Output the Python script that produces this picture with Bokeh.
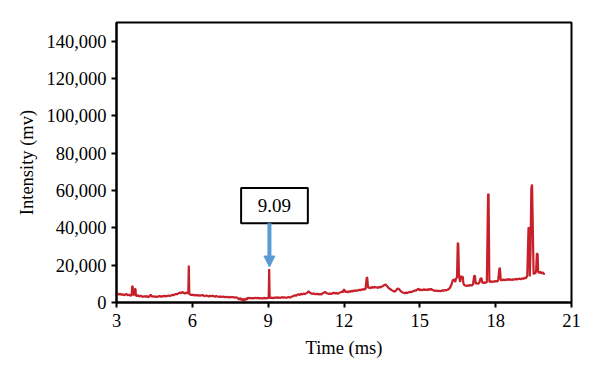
from bokeh.plotting import figure
from bokeh.models import Range1d, FixedTicker, NumeralTickFormatter, Arrow, NormalHead
from bokeh.embed import file_html
from bokeh.resources import INLINE
from bokeh.core.properties import value

# ---- data ----
time_ms = [
    3.00, 3.05, 3.10, 3.15, 3.20, 3.25, 3.30, 3.35, 3.40, 3.45, 3.50, 3.55, 3.60, 3.62, 3.64, 3.66,
    3.70, 3.73, 3.75, 3.77, 3.80, 3.85, 3.90, 3.95, 4.00, 4.05, 4.10, 4.15, 4.20, 4.25, 4.30, 4.35,
    4.40, 4.45, 4.50, 4.55, 4.60, 4.65, 4.70, 4.75, 4.80, 4.85, 4.90, 4.95, 5.00, 5.05, 5.10, 5.15,
    5.20, 5.25, 5.30, 5.35, 5.40, 5.45, 5.50, 5.55, 5.60, 5.65, 5.70, 5.75, 5.80, 5.84, 5.86, 5.88,
    5.92, 5.95, 6.00, 6.05, 6.10, 6.15, 6.20, 6.25, 6.30, 6.35, 6.40, 6.45, 6.50, 6.55, 6.60, 6.65,
    6.70, 6.75, 6.80, 6.85, 6.90, 6.95, 7.00, 7.05, 7.10, 7.15, 7.20, 7.25, 7.30, 7.35, 7.40, 7.45,
    7.50, 7.55, 7.60, 7.65, 7.70, 7.75, 7.80, 7.85, 7.90, 7.95, 8.00, 8.05, 8.10, 8.15, 8.20, 8.25,
    8.30, 8.35, 8.40, 8.45, 8.50, 8.55, 8.60, 8.65, 8.70, 8.75, 8.80, 8.85, 8.90, 8.95, 9.00, 9.02,
    9.04, 9.06, 9.10, 9.15, 9.20, 9.25, 9.30, 9.35, 9.40, 9.45, 9.50, 9.55, 9.60, 9.65, 9.70, 9.75,
    9.80, 9.85, 9.90, 9.95, 10.00, 10.05, 10.10, 10.15, 10.20, 10.25, 10.30, 10.35, 10.40, 10.45,
    10.50, 10.55, 10.60, 10.65, 10.70, 10.75, 10.80, 10.85, 10.90, 10.95, 11.00, 11.05, 11.10,
    11.15, 11.20, 11.25, 11.30, 11.35, 11.40, 11.45, 11.50, 11.55, 11.60, 11.65, 11.70, 11.75,
    11.80, 11.85, 11.90, 11.95, 12.00, 12.05, 12.10, 12.15, 12.20, 12.25, 12.30, 12.35, 12.40,
    12.45, 12.50, 12.55, 12.60, 12.65, 12.70, 12.75, 12.80, 12.85, 12.90, 12.92, 12.95, 12.98,
    13.00, 13.05, 13.10, 13.15, 13.20, 13.25, 13.30, 13.35, 13.40, 13.45, 13.50, 13.55, 13.60,
    13.65, 13.70, 13.75, 13.80, 13.85, 13.90, 13.95, 14.00, 14.05, 14.10, 14.15, 14.20, 14.25,
    14.30, 14.35, 14.40, 14.45, 14.50, 14.55, 14.60, 14.65, 14.70, 14.75, 14.80, 14.85, 14.90,
    14.95, 15.00, 15.05, 15.10, 15.15, 15.20, 15.25, 15.30, 15.35, 15.40, 15.45, 15.50, 15.55,
    15.60, 15.65, 15.70, 15.75, 15.80, 15.85, 15.90, 15.95, 16.00, 16.05, 16.10, 16.15, 16.20,
    16.25, 16.30, 16.35, 16.40, 16.43, 16.47, 16.50, 16.52, 16.55, 16.57, 16.60, 16.62, 16.65,
    16.68, 16.70, 16.72, 16.75, 16.80, 16.85, 16.90, 16.95, 17.00, 17.05, 17.10, 17.15, 17.18,
    17.21, 17.24, 17.30, 17.35, 17.40, 17.44, 17.47, 17.50, 17.55, 17.60, 17.65, 17.70, 17.72,
    17.75, 17.78, 17.80, 17.85, 17.90, 17.95, 18.00, 18.05, 18.10, 18.15, 18.17, 18.20, 18.23,
    18.30, 18.35, 18.40, 18.45, 18.50, 18.55, 18.60, 18.65, 18.70, 18.75, 18.80, 18.85, 18.90,
    18.95, 19.00, 19.05, 19.10, 19.15, 19.20, 19.25, 19.30, 19.33, 19.35, 19.38, 19.41, 19.44,
    19.47, 19.50, 19.53, 19.56, 19.60, 19.63, 19.66, 19.68, 19.71, 19.75, 19.80, 19.85, 19.90,
    19.95, 20.00,
]
intensity_mv = [
    5200, 4600, 4300, 4700, 4100, 4400, 3900, 4300, 4500, 3800, 4200, 3600, 4000, 8800, 8600, 4300,
    4100, 7400, 7200, 3700, 3500, 3900, 3200, 3600, 3300, 3000, 3400, 3100, 3500, 2800, 3300, 4200,
    3100, 3400, 3000, 3300, 2900, 3200, 3500, 3100, 3400, 3300, 3600, 3200, 3500, 3800, 3400, 3700,
    4100, 3900, 4300, 4600, 4400, 4900, 5300, 5000, 5600, 5200, 4800, 5300, 5000, 5200, 19800, 4600,
    4300, 4000, 4200, 3800, 4100, 3700, 4000, 3600, 3900, 3700, 4000, 3600, 3400, 3800, 3500, 3200,
    3600, 3300, 3700, 3400, 3100, 3500, 3200, 3000, 3300, 2900, 3200, 3000, 2800, 3100, 2900, 2700,
    3000, 2800, 2900, 2700, 2600, 2800, 2300, 1600, 2400, 1200, 2000, 900, 2200, 1500, 2600, 2300,
    2500, 2100, 2400, 2200, 2600, 2300, 2500, 2200, 2400, 2100, 2300, 2500, 2200, 2400, 2300, 2600,
    18000, 2700, 2400, 2600, 2300, 2700, 2500, 2800, 2400, 2700, 2500, 2900, 2600, 2800, 2500, 2700,
    3000, 2600, 2900, 3200, 3500, 3900, 3600, 4100, 4400, 4000, 4700, 4300, 4800, 4500,
    4900, 5300, 6100, 5200, 4900, 4600, 4900, 4500, 4400, 4700, 4300, 4600, 4200,
    4900, 5200, 5700, 5100, 4800, 4600, 4900, 4500, 5000, 5200, 4800, 5100,
    4700, 5000, 5400, 5800, 5500, 7200, 5600, 5900, 5400, 6000, 5700, 6300, 5900,
    6500, 6100, 6600, 6300, 6900, 6500, 7100, 6800, 7200, 7000, 13500, 13200, 8200,
    7800, 8100, 7600, 8300, 7900, 8400, 8000, 8200, 7800, 8300, 8100, 8600, 8900,
    9400, 9600, 8800, 8000, 7400, 7000, 6500, 6100, 5800, 6300, 7200, 7500, 6800,
    6000, 5500, 5200, 5000, 5300, 5100, 5400, 5700, 5500, 5900, 6100, 6500, 6300,
    7000, 7300, 6600, 6900, 6500, 7100, 6700, 7000, 6600, 7200, 6800, 7300, 6700,
    6500, 6200, 6400, 6100, 6300, 6000, 6200, 6500, 6300, 6700, 6500, 6900, 7200,
    8000, 9500, 11800, 12500, 11000, 12800, 13500, 32000, 31500, 14500, 12500, 11000, 13800,
    14200, 12500, 14000, 10500, 9500, 9100, 8800, 9200, 9000, 9400, 9100, 9600, 14200,
    14400, 10000, 10300, 10000, 10500, 12800, 13000, 10800, 10400, 10800, 10500, 10900, 57800,
    58200, 11200, 11000, 11400, 11000, 11300, 11100, 11500, 11200, 11800, 18500, 18200, 12200,
    11800, 12300, 11900, 12400, 12000, 12600, 12100, 12400, 12000, 12500, 12200, 12700, 12300,
    12600, 12800, 12400, 12900, 12700, 13200, 13000, 14500, 40300, 39500, 14000, 28000, 61000,
    63200, 40000, 15000, 16200, 15400, 16800, 26400, 25800, 16500, 15800, 16500, 15600, 16200,
    15300, 15500,
]

x_ticks = [3, 6, 9, 12, 15, 18, 21]
y_ticks = [0, 20000, 40000, 60000, 80000, 100000, 120000, 140000]

# annotation (peak label)
label_text = "9.09"
label_peak_time = 9.05
label_peak_top = 19000
label_box_center = (9.25, 51950)
label_box_size = (2.64, 18900)

RED = "#C8202A"
BLUE = "#5B9BD5"
FONT = "Liberation Serif"

p = figure(width=600, height=376, output_backend="svg", toolbar_location=None,
           x_range=Range1d(3, 21), y_range=Range1d(0, 150000),
           min_border_left=116, min_border_right=29, min_border_top=22, min_border_bottom=74)

p.line(time_ms, intensity_mv, line_color=RED, line_width=2.2)

# annotation box + arrow
bx, by = label_box_center
bw, bh = label_box_size
p.rect(x=[bx], y=[by], width=[bw], height=[bh], fill_color="white",
       line_color="black", line_width=2)
p.text(x=[bx], y=[by], text=[label_text], text_font=value(FONT), text_font_size="19px",
       text_align="center", text_baseline="middle", text_color="black")
p.add_layout(Arrow(end=NormalHead(size=11, fill_color=BLUE, line_color=BLUE, line_width=1),
                   x_start=label_peak_time, y_start=by - bh / 2,
                   x_end=label_peak_time, y_end=label_peak_top,
                   line_color=BLUE, line_width=4))

p.grid.visible = False
p.outline_line_color = "black"
p.outline_line_width = 2
p.background_fill_color = "white"
p.border_fill_color = "white"

for ax in (p.xaxis[0], p.yaxis[0]):
    ax.axis_line_width = 2
    ax.axis_line_color = "black"
    ax.major_tick_line_width = 2
    ax.major_tick_line_color = "black"
    ax.major_tick_out = 5
    ax.major_tick_in = 0
    ax.minor_tick_line_color = None
    ax.major_label_text_font = FONT
    ax.major_label_text_font_size = "18.5px"
    ax.major_label_text_color = "black"
    ax.axis_label_text_font = FONT
    ax.axis_label_text_font_size = "18.5px"
    ax.axis_label_text_font_style = "normal"
    ax.axis_label_text_color = "black"

p.xaxis.ticker = FixedTicker(ticks=x_ticks)
p.yaxis.ticker = FixedTicker(ticks=y_ticks)
p.yaxis.formatter = NumeralTickFormatter(format="0,0")
p.xaxis.axis_label = "Time (ms)"
p.yaxis.axis_label = "Intensity (mv)"
p.xaxis.major_label_standoff = 6
p.yaxis.major_label_standoff = 5
p.xaxis.axis_label_standoff = 8
p.yaxis.axis_label_standoff = 6

open("out.html", "w").write(file_html(p, INLINE))
